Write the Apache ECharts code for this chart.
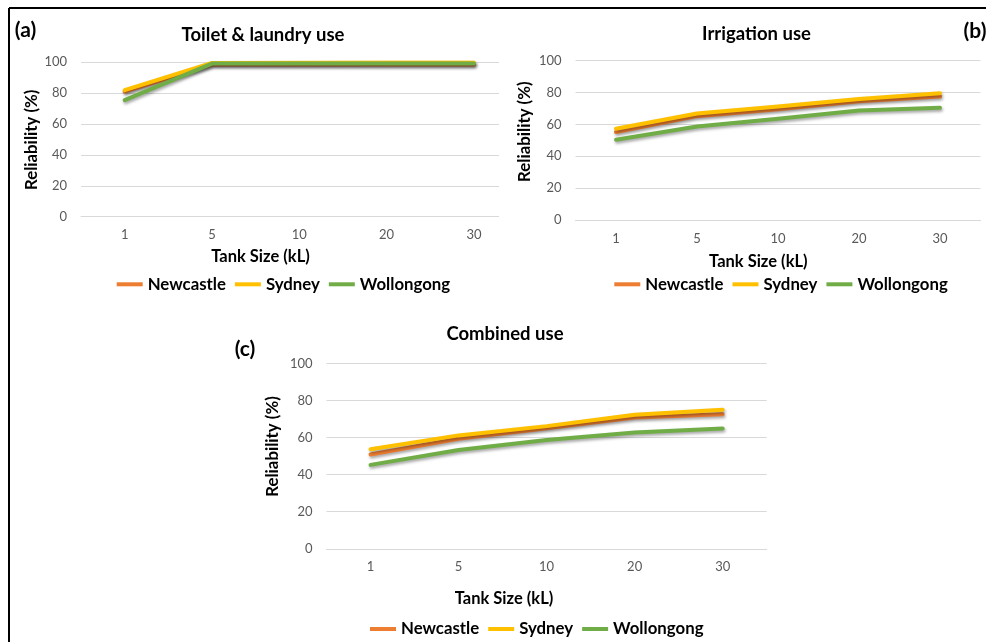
<!DOCTYPE html>
<html><head><meta charset="utf-8">
<script src="https://cdn.jsdelivr.net/npm/echarts@6/dist/echarts.min.js"></script>
<style>html,body{margin:0;padding:0;background:#fff}#c{width:986px;height:642px}</style>
</head><body><div id="c"></div>
<script>
// ---- data ----
const tankSizes = ['1', '5', '10', '20', '30'];
const cityNames = ['Newcastle', 'Sydney', 'Wollongong'];
const yTicks = [0, 20, 40, 60, 80, 100];

const toiletNewcastle  = [81.0, 98.5, 98.5, 98.5, 98.5];
const toiletSydney     = [82.0, 99.6, 99.7, 99.8, 99.8];
const toiletWollongong = [75.5, 99.2, 99.2, 99.2, 99.2];

const irrigNewcastle  = [55.2, 65.2, 69.5, 74.6, 77.5];
const irrigSydney     = [57.3, 66.8, 71.2, 76.0, 79.6];
const irrigWollongong = [50.4, 58.7, 63.5, 68.8, 70.4];

const combNewcastle  = [50.9, 59.4, 65.0, 70.8, 72.6];
const combSydney     = [53.7, 61.2, 66.2, 72.4, 75.1];
const combWollongong = [45.3, 53.3, 58.7, 62.7, 64.9];

const panelTitles = ['Toilet & laundry use', 'Irrigation use', 'Combined use'];
const panelLetters = ['(a)', '(b)', '(c)'];
const xName = 'Tank Size (kL)';
const yName = 'Reliability (%)';

// ---- styling ----
const FONT = 'Lato, "Open Sans", sans-serif';
const colors = ['#ED7D31', '#FFC000', '#70AD47'];
const grids = [
  { left: 81, top: 62.3, width: 436.6, height: 154.4 },
  { left: 575.5, top: 60.7, width: 405, height: 159.3 },
  { left: 326.5, top: 363.5, width: 440.2, height: 185.3 }
];
const panelData = [
  [toiletNewcastle, toiletSydney, toiletWollongong],
  [irrigNewcastle, irrigSydney, irrigWollongong],
  [combNewcastle, combSydney, combWollongong]
];

const xAxes = grids.map((g, i) => ({
  type: 'category', gridIndex: i, data: tankSizes, boundaryGap: true,
  axisLine: { show: true, lineStyle: { color: '#d9d9d9', width: 1 } },
  axisTick: { show: false },
  axisLabel: { color: '#595959', fontSize: 13, fontFamily: FONT, margin: 12 },
  z: i === 1 ? 3 : 0
}));
const yAxes = grids.map((g, i) => ({
  type: 'value', gridIndex: i, min: yTicks[0], max: yTicks[yTicks.length - 1], interval: 20,
  axisLine: { show: false }, axisTick: { show: false },
  axisLabel: { color: '#595959', fontSize: 13, fontFamily: FONT, margin: 14 },
  splitLine: { lineStyle: { color: '#d9d9d9', width: 1 } },
  z: i === 1 ? 3 : 0
}));

const series = [];
panelData.forEach((arrs, p) => {
  arrs.forEach((vals, k) => {
    series.push({
      type: 'line', name: cityNames[k], xAxisIndex: p, yAxisIndex: p,
      data: vals, symbol: 'none', showSymbol: false,
      lineStyle: { color: colors[k], width: 4, cap: 'round', join: 'round',
        shadowColor: 'rgba(0,0,0,0.35)', shadowBlur: 3, shadowOffsetX: 1, shadowOffsetY: 2 },
      itemStyle: { color: colors[k] },
      z: 2 + k + (p === 1 ? 3 : 0)
    });
  });
});

const legendPos = [
  { left: 116.7, top: 275.3 },
  { left: 614.3, top: 275.3 },
  { left: 370, top: 620 }
];
const legends = legendPos.map(pos => ({
  data: cityNames, left: pos.left, top: pos.top, orient: 'horizontal', padding: 0,
  icon: 'rect', itemWidth: 26, itemHeight: 4, itemGap: 9,
  textStyle: { fontFamily: FONT, fontSize: 16.8, fontWeight: 'bold', color: '#000', lineHeight: 18 }
}));

function txt(x, y, text, size, opts) {
  return Object.assign({
    type: 'text', x: x, y: y, z: 10,
    style: { text: text, fontFamily: FONT, fontSize: size, fontWeight: 'bold', fill: '#000',
      align: 'center', verticalAlign: 'middle' }
  }, opts || {});
}

const graphics = [
  // figure frame (top & left edges)
  { type: 'line', shape: { x1: 9, y1: 8, x2: 986, y2: 8 }, style: { stroke: '#000', lineWidth: 2 }, z: 20 },
  { type: 'line', shape: { x1: 9, y1: 8, x2: 9, y2: 642 }, style: { stroke: '#000', lineWidth: 2 }, z: 20 },
  // panel (b) chart area covering panel (a) edge
  { type: 'rect', shape: { x: 499, y: 50, width: 45, height: 180 }, style: { fill: '#fff' }, z: 1 },
  txt(263, 35, panelTitles[0], 18.5),
  txt(756.5, 33.7, panelTitles[1], 18.5),
  txt(505, 334, panelTitles[2], 18.5),
  txt(25.5, 30, panelLetters[0], 21),
  txt(975, 31, panelLetters[1], 21),
  txt(245, 349, panelLetters[2], 21),
  txt(260.5, 256.7, xName, 16.5),
  txt(758.3, 261.7, xName, 16.5),
  txt(504, 599, xName, 16.5),
  txt(31.7, 139.8, yName, 16.8, { rotation: Math.PI / 2 }),
  txt(525, 131.7, yName, 16.8, { rotation: Math.PI / 2 }),
  txt(273, 446.5, yName, 16.8, { rotation: Math.PI / 2 })
];

const chart = echarts.init(document.getElementById('c'), null, { renderer: 'canvas' });
chart.setOption({
  backgroundColor: '#fff',
  animation: false,
  grid: grids.map(g => Object.assign({ containLabel: false }, g)),
  xAxis: xAxes,
  yAxis: yAxes,
  legend: legends,
  series: series,
  graphic: graphics
});
</script>
</body></html>
